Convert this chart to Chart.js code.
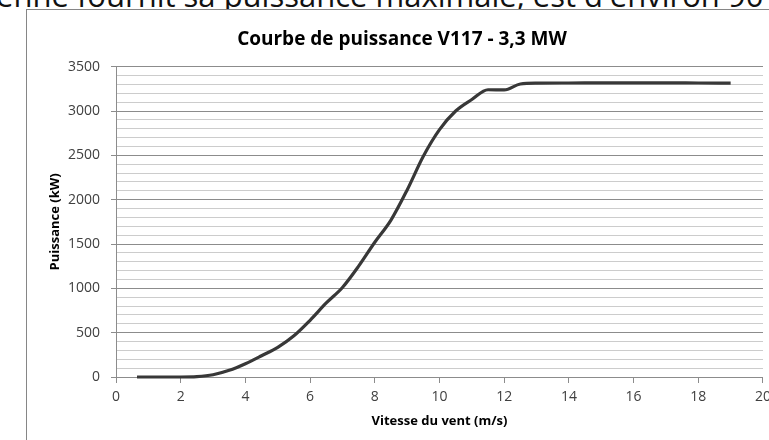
<!DOCTYPE html>
<html>
<head>
<meta charset="utf-8">
<script src="https://cdn.jsdelivr.net/npm/chart.js@4"></script>
<style>
    html, body { margin: 0; padding: 0; background: #fff; }
    body { width: 769px; height: 440px; overflow: hidden; position: relative; font-family: 'Open Sans', sans-serif; }
    #topText { position: absolute; left: -4px; top: -20px; font-size: 31px; line-height: 1; white-space: nowrap; color: #111; }
    #frame { position: absolute; left: 26px; top: 9px; width: 800px; height: 460px; border: 1px solid #868686; background: #fff; }
    #wrap { position: absolute; left: 0; top: 0; width: 750px; height: 430px; }
</style>
</head>
<body>
<div id="topText">enne fournit sa puissance maximale, est d'environ 90</div>
<div id="frame">
    <div id="wrap"><canvas id="powerChart"></canvas></div>
</div>
<script>
// Wind speed (m/s) and power (kW)
const windSpeed = [0.65, 1, 1.5, 2, 2.5, 3, 3.5, 4, 4.5, 5, 5.5, 6, 6.5, 7, 7.5, 8, 8.5, 9, 9.5, 10,
    10.5, 11, 11.5, 12, 12.5, 13, 14, 15, 16, 17, 18, 19];
const power = [0, 0, 0, 0, 4, 25, 75, 150, 240, 335, 465, 640, 835, 1010, 1250, 1520, 1770, 2110, 2490, 2790,
    3000, 3130, 3240, 3238, 3305, 3315, 3316, 3318, 3318, 3318, 3316, 3315];

const FONT = "'Open Sans', sans-serif";
const MAJOR = '#8c8c8c';
const MINOR = '#cccccc';

const points = windSpeed.map((x, i) => ({ x: x, y: power[i] }));

const ctx = document.getElementById('powerChart').getContext('2d');
new Chart(ctx, {
    type: 'scatter',
    data: {
        datasets: [{
            label: 'V117 - 3,3 MW',
            data: points,
            showLine: true,
            borderColor: '#383838',
            borderWidth: 3.2,
            pointRadius: 0,
            cubicInterpolationMode: 'monotone',
            clip: 6
        }]
    },
    options: {
        responsive: true,
        maintainAspectRatio: false,
        animation: false,
        layout: { padding: { left: 13, right: 13, top: 0, bottom: 0 } },
        plugins: {
            legend: { display: false },
            tooltip: { enabled: false },
            title: {
                display: true,
                text: 'Courbe de puissance V117 - 3,3 MW',
                color: '#000',
                font: { family: FONT, size: 19, weight: 'bold' },
                padding: { top: 18.6, bottom: 15.3 }
            }
        },
        scales: {
            x: {
                type: 'linear',
                min: 0,
                max: 20,
                ticks: {
                    stepSize: 2,
                    color: '#404040',
                    font: { family: FONT, size: 14 },
                    padding: 6,
                    maxRotation: 0
                },
                grid: { drawOnChartArea: false, tickLength: 6, tickColor: MAJOR },
                border: { color: MAJOR },
                title: {
                    display: true,
                    text: 'Vitesse du vent (m/s)',
                    color: '#000',
                    font: { family: FONT, size: 13, weight: 'bold' },
                    padding: { top: 0, bottom: 10.5 }
                },
                afterFit: (scale) => { scale.height = 63; }
            },
            y: {
                min: 0,
                max: 3500,
                ticks: {
                    stepSize: 100,
                    autoSkip: false,
                    color: '#404040',
                    font: { family: FONT, size: 14 },
                    padding: 11,
                    callback: (v) => (v % 500 === 0 ? v : '')
                },
                grid: {
                    color: (c) => (c.tick && c.tick.value % 500 === 0 ? MAJOR : MINOR),
                    tickColor: (c) => (c.tick && c.tick.value % 500 === 0 ? MAJOR : 'rgba(0,0,0,0)'),
                    tickLength: 5
                },
                border: { color: MAJOR },
                title: {
                    display: true,
                    text: 'Puissance (kW)',
                    color: '#000',
                    font: { family: FONT, size: 13, weight: 'bold' },
                    padding: { top: 7.2, bottom: 0 }
                },
                afterFit: (scale) => { scale.width = 76; }
            }
        }
    }
});
</script>
</body>
</html>
